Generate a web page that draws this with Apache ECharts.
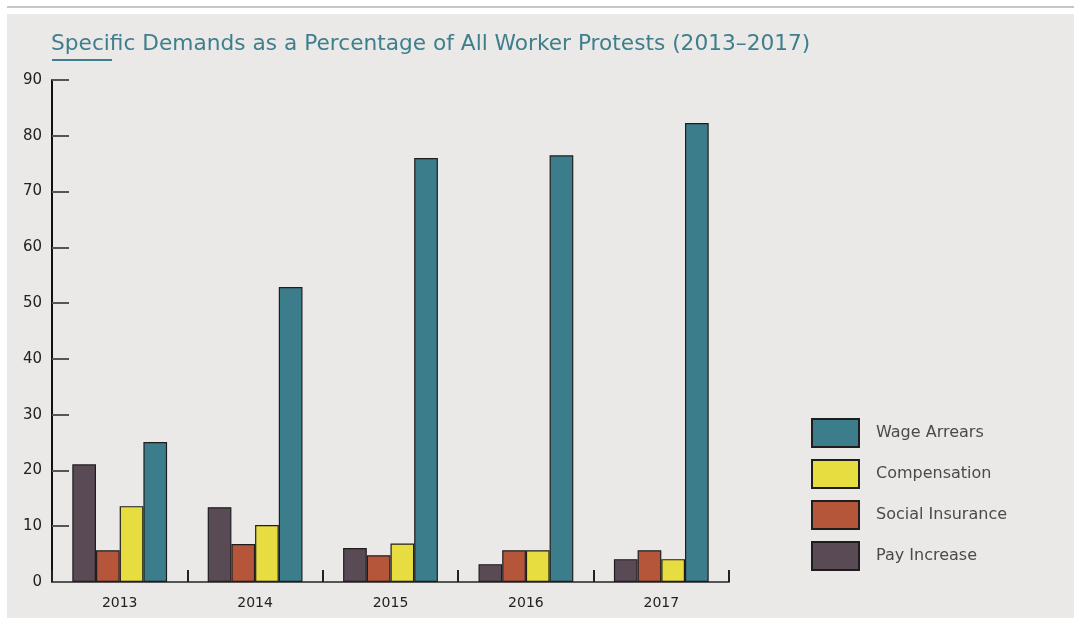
<!DOCTYPE html>
<html>
<head>
<meta charset="utf-8">
<script src="https://cdn.jsdelivr.net/npm/echarts@6/dist/echarts.min.js"></script>
<style>html,body{margin:0;padding:0;background:#fff;}#c{width:1074px;height:618px;}</style>
</head>
<body>
<div id="c"></div>
<script>
const years = ['2013', '2014', '2015', '2016', '2017'];
const payIncrease = [21.1, 13.4, 6.1, 3.2, 4.1];
const socialInsurance = [5.7, 6.8, 4.8, 5.7, 5.7];
const compensation = [13.6, 10.2, 6.9, 5.7, 4.1];
const wageArrears = [25.1, 52.9, 76.0, 76.5, 82.3];
const legendOrder = ['Wage Arrears', 'Compensation', 'Social Insurance', 'Pay Increase'];

const FONT = 'DejaVu Sans';
const chart = echarts.init(document.getElementById('c'), null, {renderer: 'canvas'});

function bar(name, data, color) {
  return {
    name, type: 'bar', data,
    barGap: '0%', barCategoryGap: '30%',
    itemStyle: {color, borderColor: '#1e1e1e', borderWidth: 1.2},
    emphasis: {disabled: true}
  };
}

chart.setOption({
  animation: false,
  textStyle: {fontFamily: FONT},
  graphic: [
    {type: 'rect', z: -10, shape: {x: 7, y: 14, width: 1067, height: 604}, style: {fill: '#ebe9e7'}},
    {type: 'rect', z: -10, shape: {x: 7, y: 6, width: 1067, height: 2}, style: {fill: '#c8c5c5'}},
    {type: 'rect', z: 10, shape: {x: 52, y: 59, width: 60, height: 2}, style: {fill: '#3d7f8c'}}
  ],
  title: {
    text: 'Specific Demands as a Percentage of All Worker Protests (2013–2017)',
    left: 46, top: 28,
    textStyle: {fontSize: 21.7, fontWeight: 'normal', color: '#3d7f8c', fontFamily: FONT}
  },
  legend: {
    data: legendOrder,
    orient: 'vertical', left: 811, top: 418, padding: 0,
    itemWidth: 47, itemHeight: 28, itemGap: 11,
    icon: 'rect',
    textStyle: {fontSize: 16, color: '#4a4a4a', padding: [0, 0, 0, 12], fontFamily: FONT}
  },
  grid: {left: 52, right: 345, top: 80, bottom: 36, containLabel: false},
  xAxis: {
    type: 'category', data: years, boundaryGap: true,
    axisLine: {lineStyle: {color: '#555', width: 2}},
    axisTick: {show: true, inside: true, length: 12, lineStyle: {color: '#222', width: 2}},
    axisLabel: {color: '#222', fontSize: 14, margin: 14}
  },
  yAxis: {
    type: 'value', min: 0, max: 90, interval: 10,
    splitLine: {show: false},
    axisLine: {show: true, lineStyle: {color: '#111', width: 2}},
    axisTick: {show: true, inside: true, length: 17, lineStyle: {color: '#555', width: 2}},
    axisLabel: {color: '#222', fontSize: 15, margin: 10}
  },
  series: [
    bar('Pay Increase', payIncrease, '#5a4a55'),
    bar('Social Insurance', socialInsurance, '#b5553a'),
    bar('Compensation', compensation, '#e8dd40'),
    bar('Wage Arrears', wageArrears, '#3c7d8c')
  ]
});
</script>
</body>
</html>
